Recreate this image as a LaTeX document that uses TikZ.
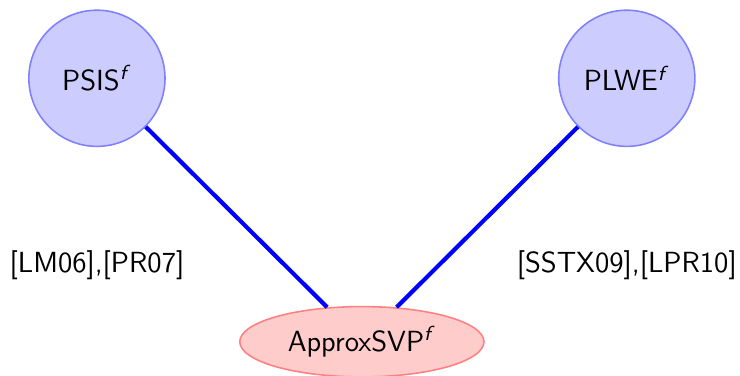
\documentclass[tikz,border=0pt]{standalone}
\usepackage{amsmath}
\usepackage{tikz}
\usetikzlibrary{shapes.geometric}

\begin{document}
\begin{tikzpicture}[auto, font=\sffamily\fontsize{11.2}{13}\selectfont,
	prob/.style={circle, draw=blue!50, fill=blue!20, semithick, minimum size=1.84cm, inner sep=0pt},
	hard/.style={ellipse, draw=red!50, fill=red!20, semithick, minimum width=3.3cm, minimum height=0.95cm, inner sep=0pt},
	link/.style={draw=blue, ultra thick}]
		\useasboundingbox (0,0) rectangle (10,5.068);
		\node[prob] (A) at (1.31,4.01) {PSIS\textsuperscript{\textit{f}}};
		\node[prob] (B) at (8.47,4.01) {PLWE\textsuperscript{\textit{f}}};
		\node[hard] (C) at (4.89,0.45) {ApproxSVP\textsuperscript{\textit{f}}};
		\node (D) at (1.31,1.49) {[LM06],[PR07]};
		\node (E) at (8.47,1.49) {[SSTX09],[LPR10]};
		\draw[link](A) to (C);
		\draw[link](B) to (C);
		\end{tikzpicture}
\end{document}
